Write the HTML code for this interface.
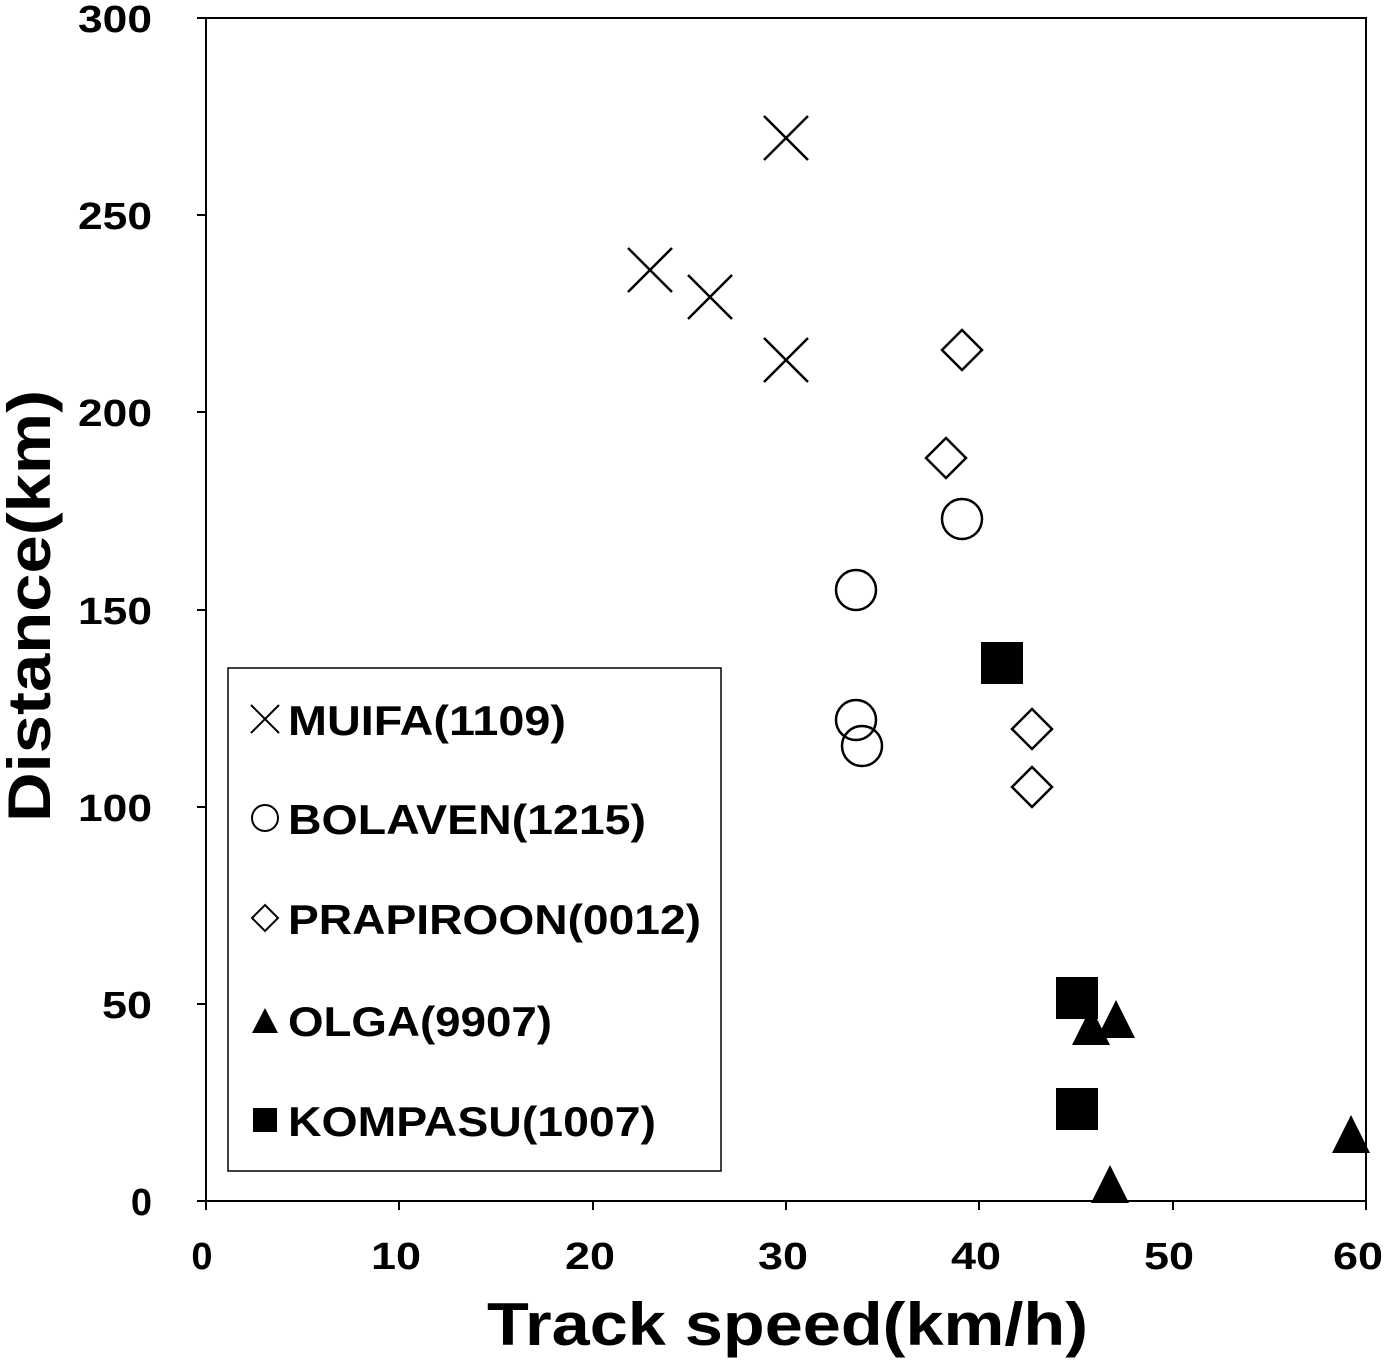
<!DOCTYPE html>
<html><head><style>body{margin:0;background:#fff}</style></head><body>
<svg width="1385" height="1362" xmlns="http://www.w3.org/2000/svg" font-family="Liberation Sans, Arial, sans-serif" font-weight="bold">
<rect x="206" y="18" width="1160" height="1183" fill="none" stroke="#000" stroke-width="2"/>
<g stroke="#000" stroke-width="2">
<line x1="206" y1="1201" x2="206" y2="1210"/><line x1="399" y1="1201" x2="399" y2="1210"/><line x1="593" y1="1201" x2="593" y2="1210"/><line x1="786" y1="1201" x2="786" y2="1210"/><line x1="979" y1="1201" x2="979" y2="1210"/><line x1="1173" y1="1201" x2="1173" y2="1210"/><line x1="1366" y1="1201" x2="1366" y2="1210"/>
<line x1="197" y1="1201" x2="206" y2="1201"/><line x1="197" y1="1004" x2="206" y2="1004"/><line x1="197" y1="807" x2="206" y2="807"/><line x1="197" y1="610" x2="206" y2="610"/><line x1="197" y1="412" x2="206" y2="412"/><line x1="197" y1="215" x2="206" y2="215"/><line x1="197" y1="18" x2="206" y2="18"/>
</g>
<g font-size="38" text-anchor="end">
<text x="152" y="1215">0</text>
<text x="152" y="1018" textLength="50" lengthAdjust="spacingAndGlyphs">50</text>
<text x="152" y="821" textLength="74" lengthAdjust="spacingAndGlyphs">100</text>
<text x="152" y="624" textLength="74" lengthAdjust="spacingAndGlyphs">150</text>
<text x="152" y="426" textLength="74" lengthAdjust="spacingAndGlyphs">200</text>
<text x="152" y="229" textLength="74" lengthAdjust="spacingAndGlyphs">250</text>
<text x="152" y="32" textLength="74" lengthAdjust="spacingAndGlyphs">300</text>
</g>
<g font-size="38" text-anchor="middle">
<text x="202" y="1269">0</text>
<text x="396" y="1269" textLength="50" lengthAdjust="spacingAndGlyphs">10</text>
<text x="590" y="1269" textLength="50" lengthAdjust="spacingAndGlyphs">20</text>
<text x="783" y="1269" textLength="50" lengthAdjust="spacingAndGlyphs">30</text>
<text x="976" y="1269" textLength="50" lengthAdjust="spacingAndGlyphs">40</text>
<text x="1169" y="1269" textLength="50" lengthAdjust="spacingAndGlyphs">50</text>
<text x="1358" y="1269" textLength="50" lengthAdjust="spacingAndGlyphs">60</text>
</g>
<text x="487" y="1345" font-size="60" textLength="601" lengthAdjust="spacingAndGlyphs">Track speed(km/h)</text>
<text transform="translate(50,822) rotate(-90)" font-size="60" textLength="432" lengthAdjust="spacingAndGlyphs">Distance(km)</text>
<g stroke="#000" stroke-width="2.5" fill="none">
<path d="M764,116l44,44M808,116l-44,44M628,248l44,44M672,248l-44,44M688,275l44,44M732,275l-44,44M764,338l44,44M808,338l-44,44"/>
<circle cx="962" cy="519" r="20"/><circle cx="856" cy="590" r="20"/><circle cx="856" cy="720" r="20"/><circle cx="862" cy="746" r="20"/>
<path d="M962,330l20,20l-20,20l-20,-20zM946,438l20,20l-20,20l-20,-20zM1032,709l20,20l-20,20l-20,-20zM1032,767l20,20l-20,20l-20,-20z"/>
</g>
<g fill="#000">
<rect x="981" y="642" width="42" height="42"/><rect x="1056" y="977" width="42" height="42"/><rect x="1056" y="1088" width="42" height="42"/>
<path d="M1116,1000l19,38h-38zM1091,1007l19,38h-38zM1110,1165l19,38h-38zM1351,1115l19,38h-38z"/>
</g>
<rect x="228" y="668" width="493" height="503" fill="#fff" stroke="#000" stroke-width="1.5"/>
<g stroke="#000" stroke-width="2" fill="none">
<path d="M251,705l28,28M279,705l-28,28"/>
<circle cx="265" cy="818" r="13"/>
<path d="M265,905l13,13l-13,13l-13,-13z"/>
</g>
<g fill="#000">
<path d="M265,1008l13,25h-26z"/>
<rect x="253" y="1108" width="24" height="24"/>
</g>
<g font-size="42">
<text x="288" y="735" textLength="278" lengthAdjust="spacingAndGlyphs">MUIFA(1109)</text>
<text x="288" y="834" textLength="358" lengthAdjust="spacingAndGlyphs">BOLAVEN(1215)</text>
<text x="288" y="934" textLength="413" lengthAdjust="spacingAndGlyphs">PRAPIROON(0012)</text>
<text x="288" y="1036" textLength="264" lengthAdjust="spacingAndGlyphs">OLGA(9907)</text>
<text x="288" y="1136" textLength="368" lengthAdjust="spacingAndGlyphs">KOMPASU(1007)</text>
</g>
</svg>
</body></html>
